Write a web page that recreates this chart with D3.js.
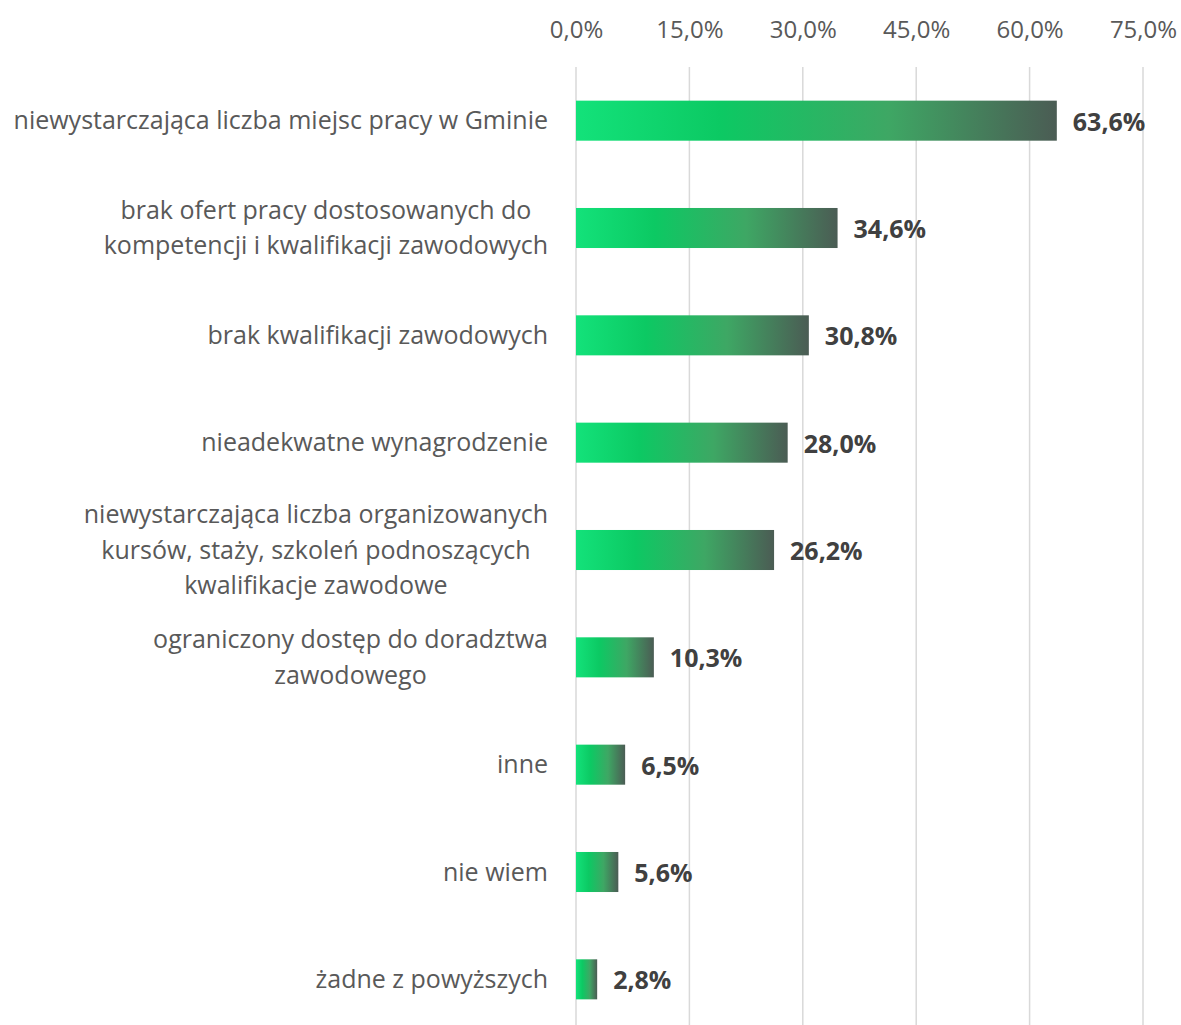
<!DOCTYPE html>
<html>
<head>
<meta charset="utf-8">
<script src="https://cdn.jsdelivr.net/npm/d3@7"></script>
<style>
  body { margin: 0; background: #fff; }
  text { font-family: "Open Sans", sans-serif; }
</style>
</head>
<body>
<div id="chart"></div>
<script>
const categories = [
  ["niewystarczająca liczba miejsc pracy w Gminie"],
  ["brak ofert pracy dostosowanych do", "kompetencji i kwalifikacji zawodowych"],
  ["brak kwalifikacji zawodowych"],
  ["nieadekwatne wynagrodzenie"],
  ["niewystarczająca liczba organizowanych", "kursów, staży, szkoleń podnoszących", "kwalifikacje zawodowe"],
  ["ograniczony dostęp do doradztwa", "zawodowego"],
  ["inne"],
  ["nie wiem"],
  ["żadne z powyższych"]
];
const values = [63.6, 34.6, 30.8, 28.0, 26.2, 10.3, 6.5, 5.6, 2.8];
const tickValues = [0, 15, 30, 45, 60, 75];

const width = 1181;
const height = 1025;
const margin = { top: 67, right: 38, bottom: -8, left: 576 };

const svg = d3
  .select("#chart")
  .append("svg")
  .attr("width", width)
  .attr("height", height);

const fmt = (v) => v.toFixed(1).replace(".", ",") + "%";

// gradient for the bars (light green -> dark grey-green)
const grad = svg
  .append("defs")
  .append("linearGradient")
  .attr("id", "barGrad")
  .attr("x1", "0%")
  .attr("x2", "100%")
  .attr("y1", "0%")
  .attr("y2", "0%");
grad.append("stop").attr("offset", "0%").attr("stop-color", "#13e27a");
grad.append("stop").attr("offset", "30%").attr("stop-color", "#0cc963");
grad.append("stop").attr("offset", "65%").attr("stop-color", "#3ea764");
grad.append("stop").attr("offset", "100%").attr("stop-color", "#4b5c54");

const x = d3
  .scaleLinear()
  .domain([0, 75])
  .range([margin.left, width - margin.right]);

const y = d3
  .scaleBand()
  .domain(d3.range(categories.length))
  .range([margin.top, height - margin.bottom])
  .paddingInner(0.627)
  .paddingOuter(0.3135);

// gridlines
svg
  .append("g")
  .attr("class", "grid")
  .selectAll("line")
  .data(tickValues)
  .enter()
  .append("line")
  .attr("x1", (d) => x(d))
  .attr("x2", (d) => x(d))
  .attr("y1", margin.top)
  .attr("y2", height)
  .attr("stroke", "#d9d9d9")
  .attr("stroke-width", 1.5);

// top axis labels
const xAxis = svg
  .append("g")
  .attr("transform", "translate(0," + 46 + ")")
  .call(d3.axisTop(x).tickValues(tickValues).tickFormat(fmt).tickSize(0));
xAxis.select(".domain").remove();
xAxis
  .selectAll("text")
  .style("font-family", '"Open Sans", sans-serif')
  .style("font-size", "24px")
  .attr("fill", "#595959")
  .attr("y", -8);

// bars
svg
  .append("g")
  .selectAll("rect")
  .data(values)
  .enter()
  .append("rect")
  .attr("x", x(0))
  .attr("y", (d, i) => y(i))
  .attr("width", (d) => x(d) - x(0))
  .attr("height", y.bandwidth())
  .attr("fill", "url(#barGrad)");

// value labels
svg
  .append("g")
  .selectAll("text")
  .data(values)
  .enter()
  .append("text")
  .attr("x", (d) => x(d) + 16)
  .attr("y", (d, i) => y(i) + y.bandwidth() / 2)
  .attr("dy", "0.4em")
  .attr("fill", "#404040")
  .style("font-size", "25px")
  .style("font-weight", "bold")
  .text((d) => fmt(d));

// category labels
const lineH = 35.5;
const catG = svg
  .append("g")
  .selectAll("text")
  .data(categories)
  .enter()
  .append("text")
  .attr("fill", "#595959")
  .style("font-size", "25px")
  .attr("y", (d, i) => y(i) + y.bandwidth() / 2);

catG.each(function (lines) {
  const t = d3.select(this);
  const n = lines.length;
  const widths = [];
  lines.forEach((l, j) => {
    t.append("tspan")
      .attr("text-anchor", "middle")
      .attr("dy", j === 0 ? (-(n - 1) / 2) * lineH + 8.5 : lineH)
      .text(l);
  });
  // center the block of lines, right edge at 548
  const tsp = t.selectAll("tspan");
  tsp.each(function () {
    widths.push(this.getComputedTextLength());
  });
  const maxW = d3.max(widths);
  tsp.attr("x", 548 - maxW / 2);
});
</script>
</body>
</html>
